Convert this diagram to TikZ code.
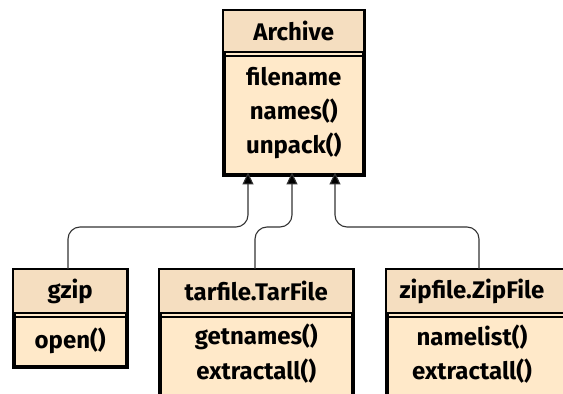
\documentclass[tikz,border=0pt]{standalone}
\usepackage{fontspec}
\setmainfont{Fira Sans}
\usetikzlibrary{calc,arrows.meta}
\definecolor{hdrfill}{HTML}{F5DEC0}
\definecolor{bodyfill}{HTML}{FFE9C9}
\definecolor{linkcol}{HTML}{333333}
\tikzset{
  classbox/.style={draw=black, line width=2.5pt, fill=bodyfill, anchor=north west, inner sep=0pt},
  lbl/.style={font=\fontsize{24}{28}\selectfont\bfseries, inner sep=0pt},
  link/.style={draw=linkcol, line width=1.1pt, rounded corners=12pt, -{Triangle[length=12pt,width=11pt,fill=black]}}
}
\begin{document}
\begin{tikzpicture}[x=1pt,y=1pt]
\clip (0,0) rectangle (563,394);
\fill[white] (0,0) rectangle (563,394);
% Archive
\node[classbox, minimum width=139pt, minimum height=163pt] (archive) at (223,384) {};
\fill[hdrfill] ($(archive.north west)+(1.2,-1.2)$) rectangle ($(archive.north east)+(-1.2,-42)$);
\draw[line width=2.5pt] ($(archive.north west)+(0,-42)$) -- ($(archive.north east)+(0,-42)$);
\draw[line width=2pt] ($(archive.north west)+(0,-46)$) -- ($(archive.north east)+(0,-46)$);
\draw[line width=2.5pt] (archive.north west) rectangle (archive.south east);
\node[lbl] (archiveT) at ($(archive.north)+(0,-21)$) {Archive};
\node[lbl] (archiveA1) at ($(archive.north)+(0,-67)$) {filename};
\node[lbl] (archiveA2) at ($(archive.north)+(0,-101)$) {names()};
\node[lbl] (archiveA3) at ($(archive.north)+(0,-136)$) {unpack()};
% gzip
\node[classbox, minimum width=112pt, minimum height=96pt] (gzip) at (13,125) {};
\fill[hdrfill] ($(gzip.north west)+(1.2,-1.2)$) rectangle ($(gzip.north east)+(-1.2,-44)$);
\draw[line width=2.5pt] ($(gzip.north west)+(0,-44)$) -- ($(gzip.north east)+(0,-44)$);
\draw[line width=2pt] ($(gzip.north west)+(0,-48)$) -- ($(gzip.north east)+(0,-48)$);
\draw[line width=2.5pt] (gzip.north west) rectangle (gzip.south east);
\node[lbl] (gzipT) at ($(gzip.north)+(0,-22)$) {gzip};
\node[lbl] (gzipM1) at ($(gzip.north)+(0,-72)$) {open()};
% tarfile
\node[classbox, minimum width=192pt, minimum height=140pt] (tar) at (159,125) {};
\fill[hdrfill] ($(tar.north west)+(1.2,-1.2)$) rectangle ($(tar.north east)+(-1.2,-44)$);
\draw[line width=2.5pt] ($(tar.north west)+(0,-44)$) -- ($(tar.north east)+(0,-44)$);
\draw[line width=2pt] ($(tar.north west)+(0,-48)$) -- ($(tar.north east)+(0,-48)$);
\draw[line width=2.5pt] (tar.north west) rectangle (tar.south east);
\node[lbl] (tarT) at ($(tar.north)+(0,-22)$) {tarfile.TarFile};
\node[lbl] (tarM1) at ($(tar.north)+(0,-68)$) {getnames()};
\node[lbl] (tarM2) at ($(tar.north)+(0,-102)$) {extractall()};
% zipfile
\node[classbox, minimum width=180pt, minimum height=140pt] (zip) at (386,125) {};
\fill[hdrfill] ($(zip.north west)+(1.2,-1.2)$) rectangle ($(zip.north east)+(-1.2,-44)$);
\draw[line width=2.5pt] ($(zip.north west)+(0,-44)$) -- ($(zip.north east)+(0,-44)$);
\draw[line width=2pt] ($(zip.north west)+(0,-48)$) -- ($(zip.north east)+(0,-48)$);
\draw[line width=2.5pt] (zip.north west) rectangle (zip.south east);
\node[lbl] (zipT) at ($(zip.north west)+(86,-22)$) {zipfile.ZipFile};
\node[lbl] (zipM1) at ($(zip.north west)+(86,-68)$) {namelist()};
\node[lbl] (zipM2) at ($(zip.north west)+(86,-102)$) {extractall()};
% links
\coordinate (c1) at (248,167);
\coordinate (c2) at (292,167);
\coordinate (c3) at (335,167);
\draw[link] (gzip.north west -| 68,0) |- (c1) -- (248,221.5);
\draw[link] (tar.north west -| 255,0) |- (c2) -- (292,221.5);
\draw[link] (zip.north west -| 479,0) |- (c3) -- (335,221.5);
\end{tikzpicture}
\end{document}
